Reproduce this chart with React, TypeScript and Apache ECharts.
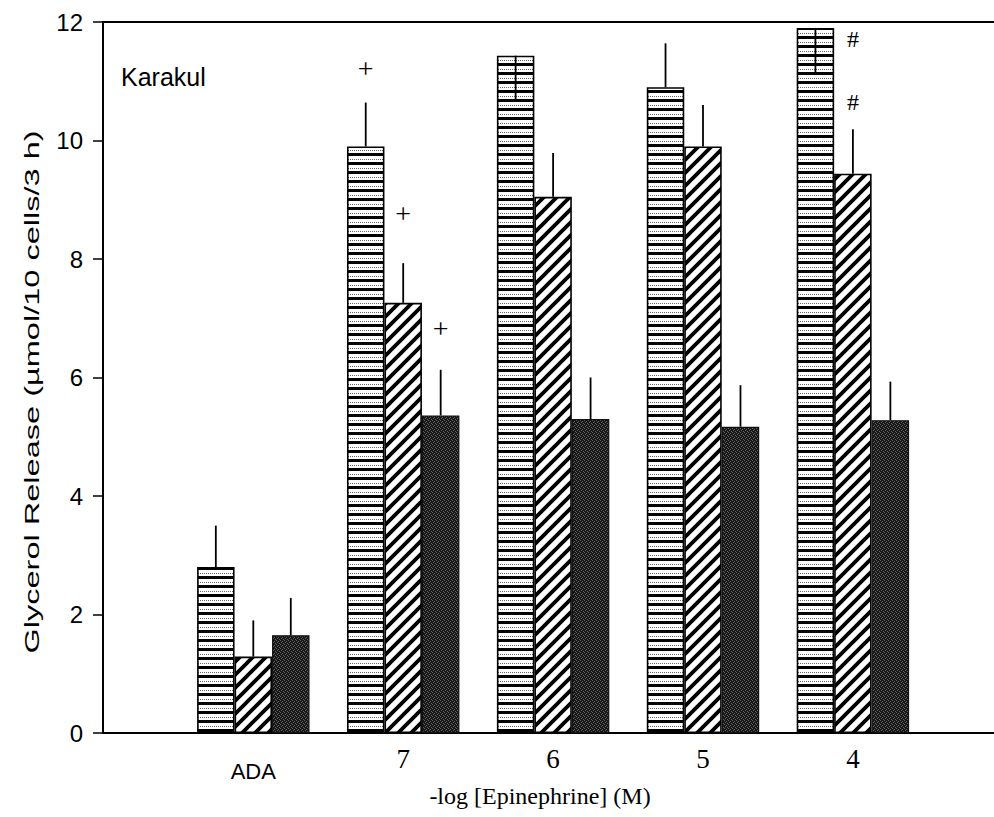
import React, { useEffect, useRef } from 'react';
import * as echarts from 'echarts';

// Epinephrine dose groups (ADA = adenosine deaminase only)
const categories = ['ADA', '7', '6', '5', '4'];

// Horizontally striped bars
const stripedValues = [2.8, 9.9, 11.43, 10.9, 11.9];
const stripedErrorEnds = [3.5, 10.64, 10.7, 11.64, 11.14];
// Diagonally hatched bars
const hatchedValues = [1.29, 7.26, 9.05, 9.9, 9.44];
const hatchedErrorEnds = [1.9, 7.93, 9.79, 10.6, 10.19];
// Dark stippled bars
const darkValues = [1.65, 5.36, 5.3, 5.17, 5.28];
const darkErrorEnds = [2.28, 6.13, 6.0, 5.87, 5.93];

// Significance marks: group index, bar index within group, height, symbol
const markGroup = [1, 1, 1, 4, 4];
const markBar = [0, 1, 2, 1, 1];
const markValue = [11.21, 8.76, 6.82, 11.71, 10.65];
const markSymbol = ['+', '+', '+', '#', '#'];

const yMin = 0;
const yMax = 12;
const yInterval = 2;

type TileDraw = (ctx: CanvasRenderingContext2D) => void;

function makeTile(w: number, h: number, draw: TileDraw) {
  const c = document.createElement('canvas');
  c.width = w;
  c.height = h;
  const ctx = c.getContext('2d') as CanvasRenderingContext2D;
  ctx.fillStyle = '#ffffff';
  ctx.fillRect(0, 0, w, h);
  draw(ctx);
  return { image: c.toDataURL(), imageWidth: w, imageHeight: h, repeat: 'repeat' as const };
}

function buildOption() {
  const stripes = makeTile(8, 9, (ctx) => {
    ctx.fillStyle = '#000';
    ctx.fillRect(0, 0, 8, 3);
    ctx.fillStyle = '#666';
    for (let x = 0; x < 8; x += 2) ctx.fillRect(x, 6, 1, 1);
  });
  const hatch = makeTile(13, 13, (ctx) => {
    ctx.strokeStyle = '#000';
    ctx.lineWidth = 3.8;
    ctx.beginPath();
    ctx.moveTo(-3, 16); ctx.lineTo(16, -3);
    ctx.moveTo(-3, 3); ctx.lineTo(3, -3);
    ctx.moveTo(10, 16); ctx.lineTo(16, 10);
    ctx.stroke();
  });
  const stipple = makeTile(4, 4, (ctx) => {
    ctx.fillStyle = '#181818';
    ctx.fillRect(0, 0, 4, 4);
    ctx.fillStyle = '#626262';
    ctx.fillRect(0, 0, 1, 1);
    ctx.fillRect(2, 1, 1, 1);
    ctx.fillRect(1, 2, 1, 1);
    ctx.fillRect(3, 3, 1, 1);
  });

  const barCommon = {
    type: 'bar' as const,
    xAxisIndex: 0,
    yAxisIndex: 1,
    barWidth: '25%',
    barGap: '0%',
    z: 2,
  };

  const errorRows: number[][] = [];
  [
    [stripedValues, stripedErrorEnds],
    [hatchedValues, hatchedErrorEnds],
    [darkValues, darkErrorEnds],
  ].forEach(([vals, ends], s) => {
    vals.forEach((v, i) => errorRows.push([i, s, v, ends[i]]));
  });

  const markRows = markGroup.map((g, i) => [g, markBar[i], markValue[i]]);

  return {
    animation: false,
    backgroundColor: '#ffffff',
    grid: [
      { left: 178.35, top: 22, width: 749.5, height: 711 },
      { left: 103, top: 22, width: 891, height: 711 },
    ],
    xAxis: [
      {
        type: 'category',
        gridIndex: 0,
        data: categories,
        boundaryGap: true,
        axisLine: { show: false },
        axisTick: { show: false },
        axisLabel: {
          margin: 12,
          formatter: (v: string) => (v === 'ADA' ? `{s|${v}}` : `{n|${v}}`),
          rich: {
            s: { fontFamily: '"Liberation Sans", Arial, sans-serif', fontSize: 22, color: '#000', padding: [15, 0, 0, 0] },
            n: { fontFamily: '"Liberation Serif", "Times New Roman", serif', fontSize: 27, color: '#000' },
          },
        },
      },
      {
        type: 'value',
        gridIndex: 1,
        min: 0,
        max: 1,
        position: 'bottom',
        axisLine: { show: true, lineStyle: { color: '#000', width: 2 } },
        axisTick: { show: false },
        axisLabel: { show: false },
        splitLine: { show: false },
      },
      {
        type: 'value',
        gridIndex: 1,
        min: 0,
        max: 1,
        position: 'top',
        axisLine: { show: true, lineStyle: { color: '#000', width: 2.2 } },
        axisTick: { show: false },
        axisLabel: { show: false },
        splitLine: { show: false },
      },
    ],
    yAxis: [
      {
        type: 'value',
        gridIndex: 1,
        min: yMin,
        max: yMax,
        interval: yInterval,
        axisLine: { show: true, lineStyle: { color: '#000', width: 2 } },
        axisTick: { show: true, inside: false, length: 10, lineStyle: { color: '#000', width: 1.5 } },
        axisLabel: {
          margin: 20,
          fontFamily: '"Liberation Sans", Arial, sans-serif',
          fontSize: 24,
          color: '#000',
        },
        splitLine: { show: false },
      },
      {
        type: 'value',
        gridIndex: 0,
        min: yMin,
        max: yMax,
        interval: yInterval,
        show: false,
      },
    ],
    series: [
      { ...barCommon, name: 'striped', data: stripedValues, itemStyle: { color: stripes, borderColor: '#000', borderWidth: 1.6 } },
      { ...barCommon, name: 'hatched', data: hatchedValues, itemStyle: { color: hatch, borderColor: '#000', borderWidth: 1.6 } },
      { ...barCommon, name: 'dark', data: darkValues, itemStyle: { color: stipple, borderColor: '#111', borderWidth: 1.2 } },
      {
        type: 'custom',
        name: 'errors',
        xAxisIndex: 0,
        yAxisIndex: 1,
        z: 5,
        encode: { x: 0, y: [2, 3] },
        data: errorRows,
        renderItem: (params: any, api: any) => {
          const cat = api.value(0);
          const s = api.value(1);
          const band = api.size([1, 0])[0];
          const bw = band * 0.25;
          const base = api.coord([cat, api.value(2)]);
          const end = api.coord([cat, api.value(3)]);
          const x = base[0] + (s - 1) * bw;
          return {
            type: 'line',
            shape: { x1: x, y1: base[1], x2: x, y2: end[1] },
            style: { stroke: '#000', lineWidth: 1.8 },
          };
        },
      },
      {
        type: 'custom',
        name: 'marks',
        xAxisIndex: 0,
        yAxisIndex: 1,
        z: 6,
        encode: { x: 0, y: 2 },
        data: markRows,
        renderItem: (params: any, api: any) => {
          const cat = api.value(0);
          const s = api.value(1);
          const band = api.size([1, 0])[0];
          const bw = band * 0.25;
          const p = api.coord([cat, api.value(2)]);
          const sym = markSymbol[params.dataIndex];
          return {
            type: 'text',
            x: p[0] + (s - 1) * bw,
            y: p[1],
            style: {
              text: sym,
              fill: '#000',
              fontFamily: '"Liberation Serif", "Times New Roman", serif',
              fontSize: sym === '+' ? 28 : 24,
              align: 'center',
              verticalAlign: 'middle',
            },
          };
        },
      },
    ],
    graphic: [
      {
        type: 'text',
        x: 121,
        y: 77,
        style: {
          text: 'Karakul',
          fill: '#000',
          fontFamily: '"Liberation Sans", Arial, sans-serif',
          fontSize: 25,
          align: 'left',
          verticalAlign: 'middle',
        },
      },
      {
        type: 'text',
        x: 32,
        y: 392,
        rotation: Math.PI / 2,
        scaleX: 1.55,
        style: {
          text: 'Glycerol Release (µmol/10 cells/3 h)',
          fill: '#000',
          fontFamily: '"Liberation Sans", Arial, sans-serif',
          fontSize: 21,
          align: 'center',
          verticalAlign: 'middle',
        },
      },
      {
        type: 'text',
        x: 540,
        y: 796,
        style: {
          text: '-log [Epinephrine] (M)',
          fill: '#000',
          fontFamily: '"Liberation Serif", "Times New Roman", serif',
          fontSize: 24,
          align: 'center',
          verticalAlign: 'middle',
        },
      },
    ],
  };
}

export default function App() {
  const ref = useRef<HTMLDivElement>(null);
  useEffect(() => {
    if (!ref.current) return;
    const chart = echarts.init(ref.current, undefined, { renderer: 'svg' });
    chart.setOption(buildOption() as any);
    return () => chart.dispose();
  }, []);
  return (
    <div
      ref={ref}
      style={{ position: 'absolute', left: 0, top: 0, width: 994, height: 817, background: '#fff' }}
    />
  );
}
